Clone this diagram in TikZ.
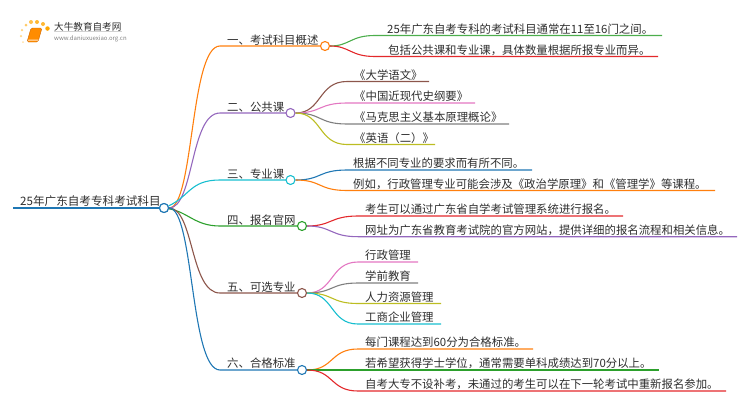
\documentclass[tikz,border=0pt]{standalone}
\usepackage{fontspec}
\setmainfont{Noto Sans CJK SC}
\definecolor{corange}{HTML}{FF7F0E}
\definecolor{cpurple}{HTML}{9467BD}
\definecolor{ccyan}{HTML}{17BECF}
\definecolor{cgreen}{HTML}{2CA02C}
\definecolor{cbrown}{HTML}{8C564B}
\definecolor{cblue}{HTML}{1F77B4}
\definecolor{cred}{HTML}{E3282B}
\definecolor{cpink}{HTML}{E377C2}
\definecolor{cgray}{HTML}{7F7F7F}
\definecolor{colive}{HTML}{BCBD22}
\definecolor{ctext}{HTML}{2E2E2E}
\tikzset{
  link/.style={line width=1.1pt},
  dot/.style={circle,draw,fill=white,line width=1.1pt,minimum size=9pt,inner sep=0pt},
  lbl/.style={anchor=base west,inner sep=0pt,yshift=-1pt,text=ctext,font=\fontsize{11.4pt}{12pt}\selectfont},
  sun/.style={circle,fill=orange!70!yellow,inner sep=0pt}
}
\begin{document}
\begin{tikzpicture}[x=1pt,y=-1pt]
\useasboundingbox (0,0) rectangle (750,410);

% logo
\node[sun,minimum size=2pt,opacity=.35] (s1) at (23,42) {};
\node[sun,minimum size=2.5pt,opacity=.45] (s2) at (21,36) {};
\node[sun,minimum size=2.5pt,opacity=.5] (s3) at (22,30) {};
\node[sun,minimum size=3pt,opacity=.6] (s4) at (26,25) {};
\node[sun,minimum size=4pt,opacity=.7] (s5) at (31,22) {};
\node[sun,minimum size=4pt,opacity=.8] (s6) at (37,22) {};
\node[sun,minimum size=4pt,opacity=.8] (s7) at (43,24) {};
\node[sun,minimum size=4.5pt] (s8) at (47.5,28.5) {};
\draw[fill=orange!90!yellow,draw=orange!80!black,line width=.4pt,rounded corners=1.5pt] (31,28) -- (42,28) -- (38,42) -- (27,42) -- cycle;
\fill[white,opacity=.8] (28.5,39.5) -- (38.5,39.5) -- (38,40.5) -- (28,40.5) -- cycle;
\node[anchor=west,inner sep=0pt,text=ctext,font=\fontsize{9.6pt}{10pt}\selectfont] (logot) at (54,27) {大牛教育自考网};
\draw[gray!35,line width=.4pt] (logot.south west) -- (logot.south east);
\node[anchor=west,inner sep=0pt,text=gray,font=\fontsize{6pt}{7pt}\selectfont] (logou) at (54,38.5) {www.daniuxuexiao.org.cn};

% root
\coordinate (rs) at (13,208);
\node[dot,draw=cblue] (root) at (164,208) {};
\node[lbl,font=\fontsize{11.6pt}{12pt}\selectfont] (roott) at (20,204.5) {25年广东自考专科考试科目};
\draw[link,cblue] (rs) -- (root);

% branches
\coordinate (b1) at (220,46);
\coordinate (b2) at (220,113);
\coordinate (b3) at (220,180);
\coordinate (b4) at (220,226);
\coordinate (b5) at (220,293);
\coordinate (b6) at (220,370);
\draw[link,corange] (root) .. controls (194,208) and (190,46) .. (b1) -- (325,46);
\draw[link,cpurple] (root) .. controls (194,208) and (190,113) .. (b2) -- (290,113);
\draw[link,ccyan] (root) .. controls (190,196) and (190,180) .. (b3) -- (290,180);
\draw[link,cgreen] (root) .. controls (188,212) and (195,226) .. (b4) -- (302,226);
\draw[link,cbrown] (root) .. controls (194,208) and (190,293) .. (b5) -- (302,293);
\draw[link,cblue] (root) .. controls (194,208) and (190,370) .. (b6) -- (302,370);
\node[dot,draw=corange] (n1) at (325,46) {};
\node[dot,draw=cpurple] (n2) at (290.5,113) {};
\node[dot,draw=ccyan] (n3) at (290.5,180) {};
\node[dot,draw=cgreen] (n4) at (302,226) {};
\node[dot,draw=cbrown] (n5) at (302,293) {};
\node[dot,draw=cblue] (n6) at (302,370) {};
\node[dot,draw=cblue] (root) at (164,208) {};
\node[lbl] (t1) at (227,43) {一、考试科目概述};
\node[lbl] (t2) at (227,110) {二、公共课};
\node[lbl] (t3) at (227,177) {三、专业课};
\node[lbl] (t4) at (227,223) {四、报名官网};
\node[lbl] (t5) at (227,290) {五、可选专业};
\node[lbl] (t6) at (227,366.5) {六、合格标准};

% leaves of branch 1
\coordinate (a1) at (375,35.5);
\coordinate (a1e) at (662,35.5);
\coordinate (a2) at (375,56.5);
\coordinate (a2e) at (658,56.5);
\draw[link,cgreen!85!white] (n1.east) .. controls (350,46) and (350,35.5) .. (a1) -- (a1e);
\draw[link,cred] (n1.east) .. controls (350,46) and (350,56.5) .. (a2) -- (a2e);
\node[lbl] (l1) at (387,32) {25年广东自考专科的考试科目通常在11至16门之间。};
\node[lbl] (l2) at (388,53) {包括公共课和专业课，具体数量根据所报专业而异。};

% leaves of branch 2
\coordinate (a3) at (347,81.5);
\coordinate (a3e) at (429,81.5);
\coordinate (a4) at (347,103);
\coordinate (a4e) at (475,103);
\coordinate (a5) at (347,124);
\coordinate (a5e) at (509,124);
\coordinate (a6) at (347,144.5);
\coordinate (a6e) at (435,144.5);
\draw[link,cbrown] (n2.east) .. controls (322,113) and (318,81.5) .. (a3) -- (a3e);
\draw[link,cpink] (n2.east) .. controls (322,113) and (318,103) .. (a4) -- (a4e);
\draw[link,cgray] (n2.east) .. controls (322,113) and (318,124) .. (a5) -- (a5e);
\draw[link,colive] (n2.east) .. controls (322,113) and (318,144.5) .. (a6) -- (a6e);
\node[lbl] (l3) at (354,78) {《大学语文》};
\node[lbl] (l4) at (354,99.5) {《中国近现代史纲要》};
\node[lbl] (l5) at (354,120.5) {《马克思主义基本原理概论》};
\node[lbl] (l6) at (354,141) {《英语（二）》};

% leaves of branch 3
\coordinate (a7) at (347,170);
\coordinate (a7e) at (532,170);
\coordinate (a8) at (347,190.5);
\coordinate (a8e) at (715,190.5);
\draw[link,cblue] (n3.east) .. controls (322,180) and (318,170) .. (a7) -- (a7e);
\draw[link,corange] (n3.east) .. controls (322,180) and (318,190.5) .. (a8) -- (a8e);
\node[lbl] (l7) at (353,166.5) {根据不同专业的要求而有所不同。};
\node[lbl] (l8) at (353,187) {例如，行政管理专业可能会涉及《政治学原理》和《管理学》等课程。};

% leaves of branch 4
\coordinate (a9) at (358,216);
\coordinate (a9e) at (623,216);
\coordinate (a10) at (358,236.7);
\coordinate (a10e) at (737,236.7);
\draw[link,cred] (n4.east) .. controls (332,226) and (330,216) .. (a9) -- (a9e);
\draw[link,cpurple] (n4.east) .. controls (332,226) and (330,236.7) .. (a10) -- (a10e);
\node[lbl] (l9) at (365,212.5) {考生可以通过广东省自学考试管理系统进行报名。};
\node[lbl] (l10) at (365,233) {网址为广东省教育考试院的官方网站，提供详细的报名流程和相关信息。};

% leaves of branch 5
\coordinate (a11) at (358,262);
\coordinate (a11e) at (418,262);
\coordinate (a12) at (358,283);
\coordinate (a12e) at (418,283);
\coordinate (a13) at (358,303.5);
\coordinate (a13e) at (441,303.5);
\coordinate (a14) at (358,324);
\coordinate (a14e) at (441,324);
\draw[link,cpink] (n5.east) .. controls (334,293) and (330,262) .. (a11) -- (a11e);
\draw[link,cgray] (n5.east) .. controls (334,293) and (330,283) .. (a12) -- (a12e);
\draw[link,colive] (n5.east) .. controls (334,293) and (330,303.5) .. (a13) -- (a13e);
\draw[link,ccyan] (n5.east) .. controls (334,293) and (330,324) .. (a14) -- (a14e);
\node[lbl] (l11) at (365,258.5) {行政管理};
\node[lbl] (l12) at (365,279.5) {学前教育};
\node[lbl] (l13) at (365,300) {人力资源管理};
\node[lbl] (l14) at (365,320.5) {工商企业管理};

% leaves of branch 6
\coordinate (a15) at (358,349);
\coordinate (a15e) at (533,349);
\coordinate (a16) at (358,370);
\coordinate (a16e) at (659,370);
\coordinate (a17) at (358,391);
\coordinate (a17e) at (726,391);
\draw[link,corange] (n6.east) .. controls (334,370) and (330,349) .. (a15) -- (a15e);
\draw[link,cgreen] (n6.east) -- (a16) -- (a16e);
\draw[link,cred] (n6.east) .. controls (334,370) and (330,391) .. (a17) -- (a17e);
\node[lbl] (l15) at (365,345.5) {每门课程达到60分为合格标准。};
\node[lbl] (l16) at (365,366.5) {若希望获得学士学位，通常需要单科成绩达到70分以上。};
\node[lbl] (l17) at (365,387.5) {自考大专不设补考，未通过的考生可以在下一轮考试中重新报名参加。};
\end{tikzpicture}
\end{document}
